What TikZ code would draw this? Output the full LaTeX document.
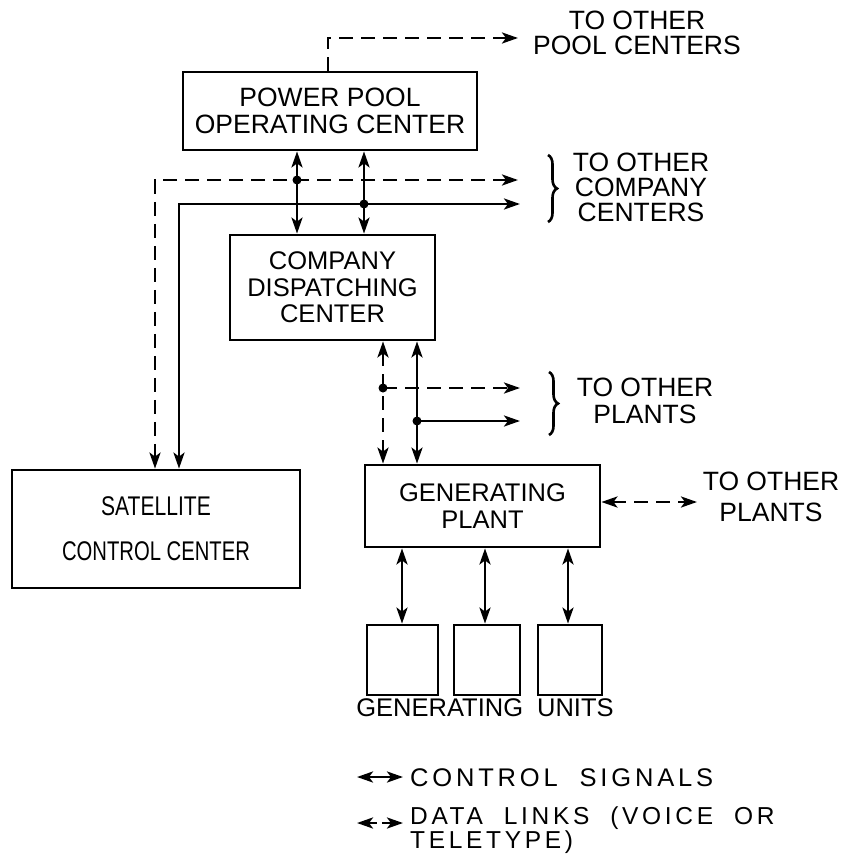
\documentclass[tikz,border=0pt]{standalone}
\usepackage{fontspec}
\usepackage{graphicx}
\setmainfont{Liberation Sans}
\newfontfamily\legendfont[LetterSpace=15,WordSpace=2]{Liberation Sans}
\usetikzlibrary{arrows.meta,decorations.pathreplacing}
\begin{document}
\begin{tikzpicture}[x=1pt,y=-1pt,
  >={Stealth[length=16pt,width=11pt,inset=4pt]},
  box/.style={draw,line width=2.8pt,inner sep=0pt,align=center,font=\fontsize{25.5}{27}\selectfont},
  unitbox/.style={draw,line width=2.8pt,inner sep=0pt,minimum height=70pt},
  lbl/.style={align=center,inner sep=0pt,font=\fontsize{26.5}{25}\selectfont},
  ctrl/.style={line width=2.8pt},
  data/.style={line width=2.8pt,dash pattern=on 14pt off 8pt},
  brc/.style={line width=2.6pt,decorate,decoration={brace,amplitude=9pt}},
  dot/.style={fill=black}]
\useasboundingbox (0,0) rectangle (846,856);

% boxes
\node[box,minimum width=294pt,minimum height=78pt,font=\fontsize{26.5}{27}\selectfont] (ppoc) at (330,111) {POWER POOL\\OPERATING CENTER};
\node[box,minimum width=205pt,minimum height=105pt,font=\fontsize{25.5}{26.5}\selectfont] (cdc) at (332.5,287.5) {COMPANY\\DISPATCHING\\CENTER};
\node[box,minimum width=235pt,minimum height=82pt] (gp) at (482.5,506) {GENERATING\\PLANT};
\node[box,minimum width=288pt,minimum height=118pt,font=\fontsize{27}{45}\selectfont] (scc) at (156,529) {\scalebox{0.78}[1]{SATELLITE}\\\scalebox{0.75}[1]{CONTROL CENTER}};
\node[unitbox,minimum width=71pt] (u1) at (402.5,660) {};
\node[unitbox,minimum width=66pt] (u2) at (487,660) {};
\node[unitbox,minimum width=64pt] (u3) at (570,660) {};
\node[lbl,font=\fontsize{25.5}{25}\selectfont] (gulbl) at (485,708) {GENERATING\hspace{0.55em}UNITS};

% free ends
\coordinate (tpool) at (518,38);
\coordinate (tcd) at (518,180);
\coordinate (tcs) at (520,204);
\coordinate (tpd) at (520,388);
\coordinate (tps) at (520,421);
\coordinate (tgp) at (697,502);
\coordinate (cnd) at (155,180);
\coordinate (cns) at (179,204);
\coordinate (j1) at (297,180);
\coordinate (j2) at (364,204);
\coordinate (j3) at (383,388);
\coordinate (j4) at (417,421);

% top: to other pool centers
\draw[data,->] (328,0 |- ppoc.north) -- (328,38) -- (tpool);

% power pool <-> company
\draw[ctrl,<->] (297,0 |- ppoc.south) -- (297,0 |- cdc.north);
\draw[ctrl,<->] (364,0 |- ppoc.south) -- (364,0 |- cdc.north);

% to other company centers / satellite
\draw[data,<->] (tcd) -- (cnd) -- (155,0 |- scc.north);
\draw[ctrl,<->] (tcs) -- (cns) -- (179,0 |- scc.north);
\fill[dot] (j1) circle (4.5pt);
\fill[dot] (j2) circle (4.5pt);

% company <-> generating plant
\draw[data,<->] (383,0 |- cdc.south) -- (383,0 |- gp.north);
\draw[ctrl,<->] (417,0 |- cdc.south) -- (417,0 |- gp.north);
\draw[data,->] (j3) -- (tpd);
\draw[ctrl,->] (j4) -- (tps);
\fill[dot] (j3) circle (4.5pt);
\fill[dot] (j4) circle (4.5pt);

% generating plant to other plants
\draw[data,<->] (gp.east |- tgp) -- (tgp);

% generating plant <-> units
\draw[ctrl,<->] (402,0 |- gp.south) -- (402,0 |- u1.north);
\draw[ctrl,<->] (485,0 |- gp.south) -- (485,0 |- u2.north);
\draw[ctrl,<->] (568,0 |- gp.south) -- (568,0 |- u3.north);

% braces
\coordinate (b1a) at (548,155);
\coordinate (b1b) at (548,222);
\coordinate (b2a) at (549,372);
\coordinate (b2b) at (549,435);
\draw[brc] (b1a) -- (b1b);
\draw[brc] (b2a) -- (b2b);

% labels
\node[lbl] (lpool) at (637,33) {TO OTHER\\POOL CENTERS};
\node[lbl] (lcomp) at (641,187) {TO OTHER\\COMPANY\\CENTERS};
\node[lbl,font=\fontsize{26.5}{27}\selectfont] (lplants) at (645,401) {TO OTHER\\PLANTS};
\node[lbl,font=\fontsize{26.5}{31}\selectfont] (lplants2) at (771,497) {TO OTHER\\PLANTS};

% legend
\coordinate (la1) at (357,777);
\coordinate (la2) at (403,777);
\coordinate (lb1) at (357,823);
\coordinate (lb2) at (403,823);
\draw[ctrl,<->] (la1) -- (la2);
\draw[line width=2.8pt,dash pattern=on 9pt off 5pt,<->] (lb1) -- (lb2);
\node[anchor=west,inner sep=0pt,font=\legendfont\fontsize{25.5}{21}\selectfont] (lctrl) at (410,778) {CONTROL SIGNALS};
\node[anchor=north west,inner sep=0pt,align=left,font=\legendfont\fontsize{24.5}{19.5}\selectfont] (ldata) at (410,807) {DATA LINKS (VOICE OR\\TELETYPE)};
\end{tikzpicture}
\end{document}
